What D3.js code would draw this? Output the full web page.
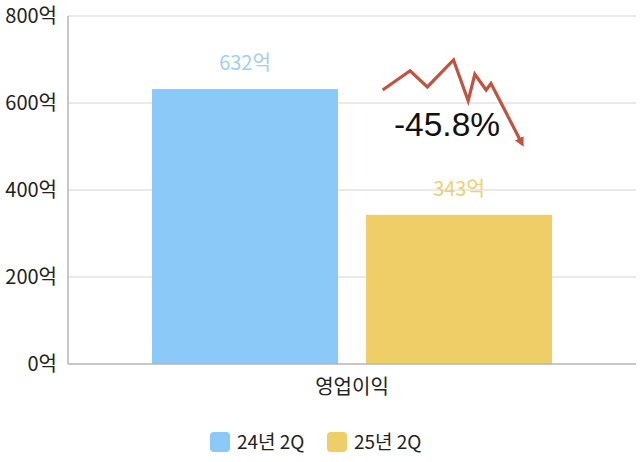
<!DOCTYPE html>
<html><head><meta charset="utf-8">
<script src="https://cdn.jsdelivr.net/npm/d3@7"></script>
<style>body{margin:0;background:#fff}svg{display:block;font-family:"Noto Sans CJK KR","Noto Sans",sans-serif}</style>
</head><body><svg id="c" width="640" height="462"></svg>
<script>
const categories = ["영업이익"];
const seriesNames = ["24년 2Q", "25년 2Q"];
const seriesValues = [632, 343];
const seriesColors = ["#8ac9f8", "#efcd67"];
const labelColors = ["#9fcff2", "#f0d06c"];
const yTicks = [0, 200, 400, 600, 800];
const changeLabel = "-45.8%";
// decorative trend arrow: x as fraction of its width, y in value units of the chart
const trendX = [0, 0.198, 0.323, 0.512, 0.618, 0.666, 0.748, 0.783, 1.0];
const trendY = [630, 674, 637, 699, 605, 666, 630, 645, 511];

const svg = d3.select("#c");
const m = {l:68, r:636, t:16, b:364};
const y = d3.scaleLinear().domain([0,800]).range([m.b, m.t]);
const x0 = d3.scaleBand().domain(categories).range([m.l, m.r]).paddingInner(0).paddingOuter(0.21);
const x1 = d3.scaleBand().domain(seriesNames).range([0, x0.bandwidth()]).paddingInner(0.131);

// gridlines
svg.append("g").selectAll("line").data(yTicks.filter(d=>d>0)).join("line")
  .attr("x1", m.l).attr("x2", m.r).attr("y1", d=>y(d)).attr("y2", d=>y(d))
  .attr("stroke", "#d4d4d4").attr("stroke-width", 1);

// y labels
svg.append("g").selectAll("text").data(yTicks).join("text")
  .attr("x", 57).attr("y", d=>y(d)+7).attr("text-anchor","end")
  .attr("font-size", 20).attr("fill", "#222").text(d=>d+"억");

// bars
const g = svg.append("g").attr("transform", `translate(${x0(categories[0])},0)`);
g.selectAll("rect").data(seriesValues).join("rect")
  .attr("x", (d,i)=>x1(seriesNames[i])).attr("width", x1.bandwidth())
  .attr("y", d=>y(d)).attr("height", d=>y(0)-y(d))
  .attr("fill", (d,i)=>seriesColors[i]);
g.selectAll("text").data(seriesValues).join("text")
  .attr("x", (d,i)=>x1(seriesNames[i]) + x1.bandwidth()/2)
  .attr("y", d=>y(d)-19).attr("text-anchor","middle")
  .attr("font-size", 20).attr("fill", (d,i)=>labelColors[i]).text(d=>d+"억");

// axes
svg.append("line").attr("x1", m.l).attr("x2", m.l).attr("y1", m.t).attr("y2", m.b)
  .attr("stroke", "#b4b4b4").attr("stroke-width", 1.5);
svg.append("line").attr("x1", m.l).attr("x2", m.r).attr("y1", m.b).attr("y2", m.b)
  .attr("stroke", "#b4b4b4").attr("stroke-width", 1.5);

// x label
svg.append("text").attr("x", x0(categories[0]) + x0.bandwidth()/2).attr("y", 394)
  .attr("text-anchor","middle").attr("font-size", 20).attr("fill","#222").text(categories[0]);

// trend arrow
const tx = d3.scaleLinear().domain([0,1]).range([382.7, 521]);
const pts = trendX.map((v,i)=>[tx(v), y(trendY[i])]);
svg.append("defs").append("marker").attr("id","ah").attr("viewBox","0 0 10 10")
  .attr("refX",4).attr("refY",5).attr("markerWidth",3).attr("markerHeight",3).attr("orient","auto")
  .append("path").attr("d","M0,0L10,5L0,10Z").attr("fill","#c5523d");
svg.append("path").attr("d", d3.line()(pts)).attr("fill","none")
  .attr("stroke","#c5523d").attr("stroke-width",3.2).attr("stroke-linejoin","miter")
  .attr("marker-end","url(#ah)");
svg.append("text").attr("x", 447).attr("y", 136).attr("text-anchor","middle")
  .attr("font-family","'Liberation Sans',Arial,sans-serif")
  .attr("font-size", 33.5).attr("fill","#111").text(changeLabel);

// legend
const lg = svg.append("g");
const lx = [210, 327];
seriesNames.forEach((n,i)=>{
  lg.append("rect").attr("x", lx[i]).attr("y", 432).attr("width", 20).attr("height", 20)
    .attr("rx", 4).attr("fill", seriesColors[i]);
  lg.append("text").attr("x", lx[i]+27).attr("y", 449).attr("font-size", 19)
    .attr("fill","#222").text(n);
});
</script></body></html>
